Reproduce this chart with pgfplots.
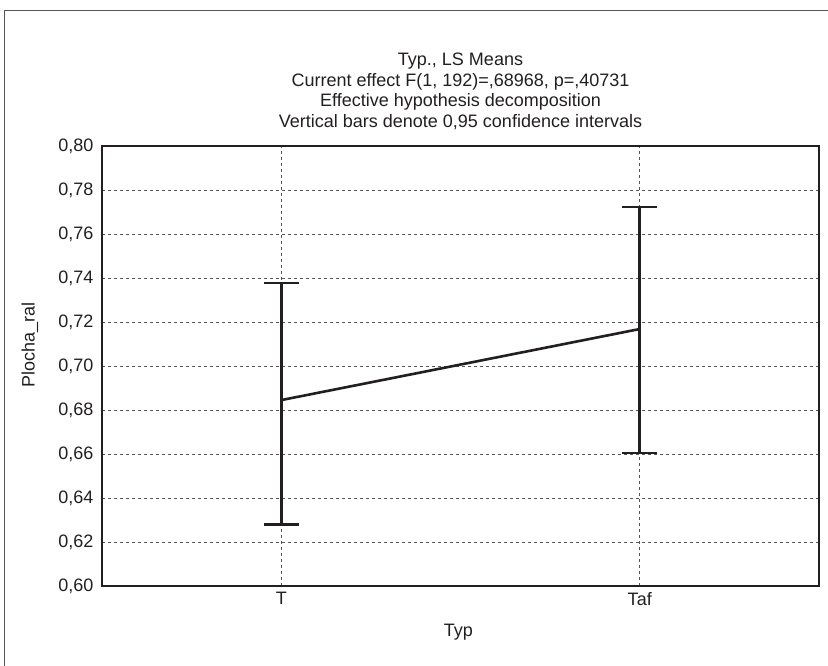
\documentclass[border=0pt]{standalone}
\usepackage{pgfplots}
\pgfplotsset{compat=1.18}
\usepackage{pgfplotstable}
\usepackage{fontspec}
\setmainfont{Liberation Sans}

\definecolor{ink}{HTML}{231F20}
\definecolor{gridc}{HTML}{555555}

% LS means with 0.95 confidence limits
\pgfplotstableread{
x  y       ep      em
0  0.6845  0.0532  0.0565
1  0.7168  0.0555  0.0563
}\lsmeans

\begin{document}
\begin{tikzpicture}[x=1pt,y=1pt]
\useasboundingbox (0,0) rectangle (828,666);
% outer frame (cut off at right and bottom)
\draw[gridc, line width=1.3pt] (4.5,0) -- (4.5,655.5) -- (840,655.5);
\begin{axis}[
	at={(102pt,80pt)}, anchor=south west,
	scale only axis, width=717pt, height=440pt,
	xmin=-0.5, xmax=1.5, ymin=0.6, ymax=0.8,
	xtick={0,1}, xticklabels={T,Taf},
	ytick={0.60,0.62,0.64,0.66,0.68,0.70,0.72,0.74,0.76,0.78,0.80},
	yticklabel style={xshift=-5pt,
		/pgf/number format/fixed,
		/pgf/number format/fixed zerofill,
		/pgf/number format/precision=2,
		/pgf/number format/use comma},
	/pgf/number format/assume math mode=true,
	major tick length=0pt,
	grid=major,
	major grid style={gridc, line width=0.9pt, dash pattern=on 3pt off 3pt},
	axis line style={ink, line width=2.5pt},
	tick label style={font=\fontsize{18}{21}\selectfont, text=ink},
	xticklabel style={yshift=-3pt},
	label style={font=\fontsize{18}{21}\selectfont, text=ink},
	xlabel={Typ},
	xlabel style={at={(axis description cs:0.497,-0.105)}, anchor=center},
	ylabel={Plocha\_ral},
	ylabel style={at={(axis description cs:-0.1004,0.548)}, anchor=center},
	title={Typ., LS Means\\Current effect F(1, 192)=,68968, p=,40731\\Effective hypothesis decomposition\\Vertical bars denote 0,95 confidence intervals},
	title style={at={(axis description cs:0.5,1)}, anchor=south, yshift=10pt, align=center, inner sep=0pt, font=\fontsize{18}{20.5}\selectfont, text=ink},
]
\addplot[ink, line width=2.6pt, mark=none,
	error bars/.cd, y dir=both, y explicit,
	error bar style={ink, line width=2.6pt},
	error mark options={rotate=90, mark size=17.5pt, line width=2.6pt, ink}]
	table[x=x, y=y, y error plus=ep, y error minus=em] {\lsmeans};
\end{axis}
\end{tikzpicture}
\end{document}
